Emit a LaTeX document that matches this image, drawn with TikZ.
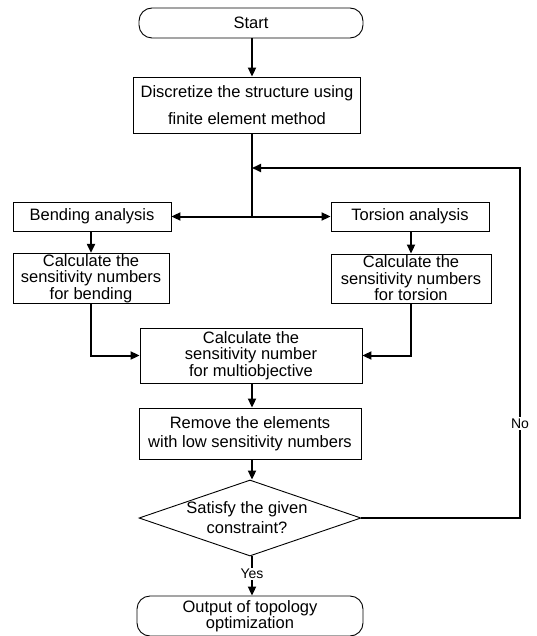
\documentclass[tikz,border=0pt]{standalone}
\usepackage{fontspec}
\setmainfont{Liberation Sans}
\usetikzlibrary{arrows.meta,shapes.geometric}
\begin{document}
\begin{tikzpicture}[x=1pt,y=-1pt,
  box/.style={draw, line width=0.9pt, align=center, inner sep=1pt, font=\fontsize{16.5}{16.5}\selectfont},
  term/.style={box, rounded corners=13pt},
  conn/.style={line width=2pt, -{Triangle[length=9pt,width=8pt]}},
  plain/.style={line width=2pt},
  lbl/.style={fill=white, inner sep=1.5pt, font=\fontsize{14}{16}\selectfont}]
\useasboundingbox (0,0) rectangle (536,636);
\node[term, minimum width=224pt, minimum height=30pt] (start) at (251,23) {Start};
\node[box, minimum width=227pt, minimum height=56pt, font=\fontsize{16.5}{27}\selectfont] (disc) at (247,105) {Discretize the structure using\\finite element method};
\node[box, minimum width=158pt, minimum height=29pt] (bend) at (92,216.5) {Bending analysis};
\node[box, minimum width=158pt, minimum height=29pt] (tors) at (410,216.5) {Torsion analysis};
\node[box, minimum width=156pt, minimum height=49pt] (calcb) at (91,278.5) {Calculate the\\sensitivity numbers\\for bending};
\node[box, minimum width=160pt, minimum height=49pt] (calct) at (411,278.5) {Calculate the\\sensitivity numbers\\for torsion};
\node[box, minimum width=222pt, minimum height=55pt] (multi) at (251,355.5) {Calculate the\\sensitivity number\\for multiobjective};
\node[box, minimum width=222pt, minimum height=51pt, font=\fontsize{16.5}{19}\selectfont] (remove) at (250,433.5) {Remove the elements\\with low sensitivity numbers};
\node[draw, diamond, line width=0.9pt, minimum width=222pt, minimum height=76pt, inner sep=0pt] (d) at (250,518) {};
\node[align=center, font=\fontsize{16.5}{20}\selectfont] (dq) at (247,518) {Satisfy the given\\constraint?};
\node[term, minimum width=226pt, minimum height=40pt, font=\fontsize{16.5}{15}\selectfont] (out) at (250,616) {Output of topology\\optimization};
\coordinate (j) at (252,216.5);
\coordinate (rt) at (520,168);
\draw[conn] (start.south -| j) -- (disc.north -| j);
\draw[plain] (disc.south -| j) -- (j);
\draw[conn] (j) -- (bend.east);
\draw[conn] (j) -- (tors.west);
\draw[conn] (bend.south -| calcb) -- (calcb.north);
\draw[conn] (tors.south -| calct) -- (calct.north);
\draw[conn] (calcb.south) -- (calcb.south |- multi.west) -- (multi.west);
\draw[conn] (calct.south) -- (calct.south |- multi.east) -- (multi.east);
\draw[conn] (multi.south -| j) -- (remove.north -| j);
\draw[conn] (remove.south -| j) -- (d.north -| j);
\draw[conn] (d.east) -- (rt |- d.east) -- node[lbl, pos=0.27] {No} (rt) -- (j |- rt);
\draw[conn] (d.south -| j) -- node[lbl, pos=0.45] {Yes} (out.north -| j);
\end{tikzpicture}
\end{document}
